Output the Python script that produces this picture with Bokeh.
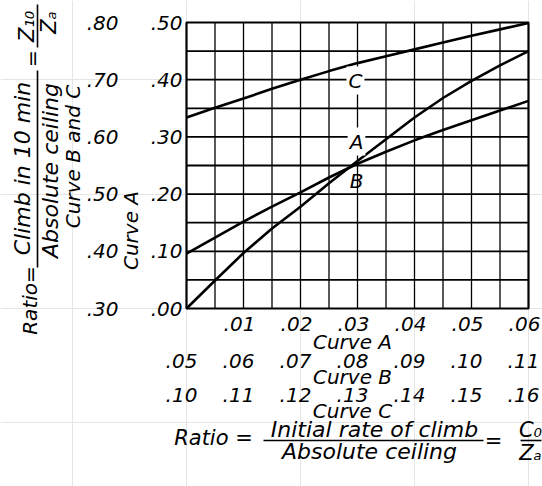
from math import pi
from bokeh.plotting import figure
from bokeh.models import Range1d, Label
from bokeh.core.properties import value
from bokeh.embed import file_html
from bokeh.resources import INLINE

# ---------------- data (each curve on its own scales) ----------------
CURVE_A_X = [0.000, 0.005, 0.010, 0.015, 0.020, 0.025, 0.030, 0.035, 0.040, 0.045, 0.050, 0.055, 0.060]
CURVE_A_Y = [0.000, 0.049, 0.097, 0.140, 0.178, 0.219, 0.258, 0.296, 0.334, 0.368, 0.398, 0.425, 0.450]

CURVE_B_X = [0.050, 0.055, 0.060, 0.065, 0.070, 0.075, 0.080, 0.085, 0.090, 0.095, 0.100, 0.105, 0.110]
CURVE_B_Y = [0.396, 0.424, 0.452, 0.478, 0.503, 0.529, 0.553, 0.574, 0.594, 0.612, 0.629, 0.646, 0.663]

CURVE_C_X = [0.100, 0.105, 0.110, 0.115, 0.120, 0.125, 0.130, 0.135, 0.140, 0.145, 0.150, 0.155, 0.160]
CURVE_C_Y = [0.634, 0.651, 0.667, 0.684, 0.700, 0.715, 0.729, 0.741, 0.753, 0.765, 0.777, 0.788, 0.799]

# ---------------- scales, ticks and tick labels ----------------
A_X_LIMITS = [0.00, 0.06]
A_Y_LIMITS = [0.00, 0.50]
B_X_START = 0.05          # Curve B abscissa at the left edge
C_X_START = 0.10          # Curve C abscissa at the left edge
BC_Y_START = 0.30         # Curves B and C ordinate at the bottom edge

A_X_TICKS = [0.01, 0.02, 0.03, 0.04, 0.05, 0.06]
A_X_LABELS = [".01", ".02", ".03", ".04", ".05", ".06"]
B_X_TICKS = [0.05, 0.06, 0.07, 0.08, 0.09, 0.10, 0.11]
B_X_LABELS = [".05", ".06", ".07", ".08", ".09", ".10", ".11"]
C_X_TICKS = [0.10, 0.11, 0.12, 0.13, 0.14, 0.15, 0.16]
C_X_LABELS = [".10", ".11", ".12", ".13", ".14", ".15", ".16"]
A_Y_TICKS = [0.0, 0.1, 0.2, 0.3, 0.4, 0.5]
A_Y_LABELS = [".00", ".10", ".20", ".30", ".40", ".50"]
BC_Y_TICKS = [0.3, 0.4, 0.5, 0.6, 0.7, 0.8]
BC_Y_LABELS = [".30", ".40", ".50", ".60", ".70", ".80"]

GRID_X = [0.005, 0.010, 0.015, 0.020, 0.025, 0.030, 0.035, 0.040, 0.045, 0.050, 0.055]
GRID_Y = [0.05, 0.10, 0.15, 0.20, 0.25, 0.30, 0.35, 0.40, 0.45]

FONT = "DejaVu Sans"

# ---------------- geometry (picture pixels) ----------------
CANVAS_W, CANVAS_H = 542, 486
PLOT_LEFT, PLOT_BOTTOM = 186, 308          # position of the chart's lower-left corner
PLOT_W, PLOT_H = 342, 286
SX = PLOT_W / (A_X_LIMITS[1] - A_X_LIMITS[0])
SY = PLOT_H / (A_Y_LIMITS[1] - A_Y_LIMITS[0])

x0 = (0 - PLOT_LEFT) / SX
x1 = (CANVAS_W - PLOT_LEFT) / SX
y0 = (PLOT_BOTTOM - CANVAS_H) / SY
y1 = (PLOT_BOTTOM - 0) / SY

p = figure(width=CANVAS_W, height=CANVAS_H, min_border=0,
           x_range=Range1d(x0, x1), y_range=Range1d(y0, y1),
           x_axis_location=None, y_axis_location=None,
           output_backend="svg", toolbar_location=None)
p.extra_x_ranges = {"B": Range1d(x0 + B_X_START, x1 + B_X_START),
                    "C": Range1d(x0 + C_X_START, x1 + C_X_START)}
p.extra_y_ranges = {"BC": Range1d(y0 + BC_Y_START, y1 + BC_Y_START)}
p.outline_line_color = None
p.background_fill_color = "white"
p.border_fill_color = "white"

# grid and frame
p.segment(x0=GRID_X, y0=A_Y_LIMITS[0], x1=GRID_X, y1=A_Y_LIMITS[1],
          line_color="black", line_width=1.3)
p.segment(x0=A_X_LIMITS[0], y0=GRID_Y, x1=A_X_LIMITS[1], y1=GRID_Y,
          line_color="black", line_width=1.8)
p.quad(left=A_X_LIMITS[0], right=A_X_LIMITS[1], bottom=A_Y_LIMITS[0], top=A_Y_LIMITS[1],
       fill_color=None, line_color="black", line_width=2.2)

# curves
p.line(CURVE_A_X, CURVE_A_Y, line_color="black", line_width=2.6)
p.line(CURVE_B_X, CURVE_B_Y, x_range_name="B", y_range_name="BC",
       line_color="black", line_width=2.6)
p.line(CURVE_C_X, CURVE_C_Y, x_range_name="C", y_range_name="BC",
       line_color="black", line_width=2.6)

TXT = dict(text_font=value(FONT), text_font_style=value("italic"),
           text_font_size=value("20px"), text_color="black")

# tick labels
p.text(x=A_X_TICKS, y=A_Y_LIMITS[0], text=A_X_LABELS, x_offset=-4, y_offset=15,
       text_align="center", text_baseline="middle", **TXT)
p.text(x=B_X_TICKS, y=A_Y_LIMITS[0], text=B_X_LABELS, x_range_name="B", x_offset=-5, y_offset=52,
       text_align="center", text_baseline="middle", **TXT)
p.text(x=C_X_TICKS, y=A_Y_LIMITS[0], text=C_X_LABELS, x_range_name="C", x_offset=-5, y_offset=86,
       text_align="center", text_baseline="middle", **TXT)
p.text(x=A_X_LIMITS[0], y=A_Y_TICKS, text=A_Y_LABELS, x_offset=-4,
       text_align="right", text_baseline="middle", **TXT)
p.text(x=A_X_LIMITS[0], y=BC_Y_TICKS, text=BC_Y_LABELS, y_range_name="BC", x_offset=-68,
       text_align="right", text_baseline="middle", **TXT)


def at(px, py):
    return (px - PLOT_LEFT) / SX, (PLOT_BOTTOM - py) / SY


def label(px, py, text, size="20px", angle=0, bg=None, padding=0):
    x, y = at(px, py)
    lab = Label(x=x, y=y, text=text, angle=angle, text_font=FONT,
                text_font_style="italic", text_font_size=size,
                text_color="black", text_align="center", text_baseline="middle")
    if bg is not None:
        lab.background_fill_color = bg
        lab.padding = padding
    p.add_layout(lab)


def bar(px0, py0, px1, py1, width=1.6):
    xa, ya = at(px0, py0)
    xb, yb = at(px1, py1)
    p.segment(x0=[xa], y0=[ya], x1=[xb], y1=[yb], line_color="black", line_width=width)


# curve letters
label(356, 141, "A", bg="white", padding=2)
label(356, 180, "B")
label(355, 80, "C", bg="white", padding=2)

# axis titles
label(352, 341, "Curve A")
label(352, 376, "Curve B")
label(352, 410, "Curve C")
label(130, 230, "Curve A", angle=pi / 2)
label(72, 156, "Curve B and C", angle=pi / 2)

# left formula (vertical)
label(29, 300, "Ratio=", angle=pi / 2)
label(22, 168, "Climb in 10 min", size="22px", angle=pi / 2)
bar(37, 267, 37, 70)
label(50, 170, "Absolute ceiling", size="22px", angle=pi / 2)
label(31, 58, "=", angle=pi / 2)
label(26, 26, "Z\u2081\u2080", size="21px", angle=pi / 2)
bar(37, 47, 37, 4)
label(48, 22, "Z\u2090", size="21px", angle=pi / 2)

# bottom formula
label(213, 437, "Ratio =", size="21px")
label(374, 429, "Initial rate of climb", size="22px")
bar(263, 440, 483, 440)
label(369, 451, "Absolute ceiling", size="22px")
label(493, 440, "=", size="21px")
label(530, 429, "C\u2080", size="21px")
bar(520, 440, 541, 440)
label(530, 452, "Z\u2090", size="21px")

open("out.html", "w").write(file_html(p, INLINE))
